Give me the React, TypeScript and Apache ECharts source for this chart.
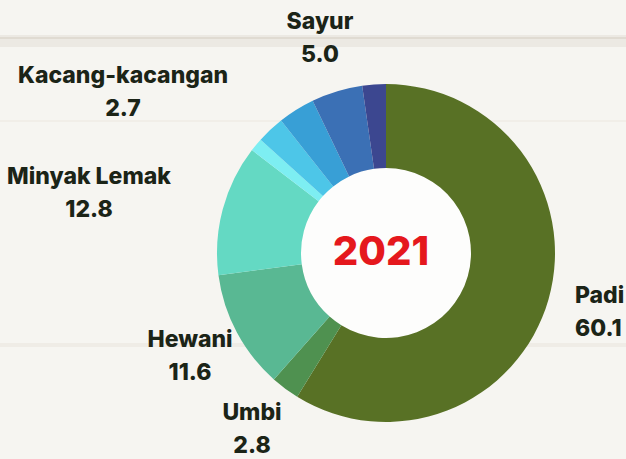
import React, { useEffect, useRef } from "react";
import * as echarts from "echarts";

const categories = ["Padi", "Umbi", "Hewani", "Minyak Lemak", "Buah/Biji Berminyak", "Kacang-kacangan", "Gula", "Sayur", "Lain-lain"];
const values = [60.1, 2.8, 11.6, 12.8, 1.3, 2.7, 3.6, 5.0, 2.3];
const showLabel = [true, true, true, true, false, true, false, true, false];
const sliceColors = ["#587125", "#4f9150", "#59b893", "#64d9c3", "#7deef2", "#4dc6e8", "#389fd6", "#3b70b5", "#3c4790"];
const centerTitle = "2021";

// label anchors (pixel positions of label blocks)
const labelPos: { x: number; y: number; align: string }[] = [
  { x: 575, y: 311, align: "left" },
  { x: 252, y: 428, align: "center" },
  { x: 190, y: 355, align: "center" },
  { x: 89, y: 192, align: "center" },
  { x: 0, y: 0, align: "center" },
  { x: 123, y: 91, align: "center" },
  { x: 0, y: 0, align: "center" },
  { x: 320, y: 37, align: "center" },
  { x: 0, y: 0, align: "center" },
];

const W = 626;
const H = 459;
const CX = 386;
const CY = 253;

export default function App() {
  const ref = useRef<HTMLDivElement>(null);
  useEffect(() => {
    if (!ref.current) return;
    const chart = echarts.init(ref.current, null, { renderer: "svg" });
    const font = "Inter, 'Open Sans', sans-serif";
    chart.setOption({
      animation: false,
      backgroundColor: "#f6f5f1",
      graphic: [
        { type: "rect", z: -10, shape: { x: 0, y: 35, width: W, height: 12 }, style: { fill: "#ece9e3" } },
        { type: "line", z: -10, shape: { x1: 0, y1: 38, x2: W, y2: 38 }, style: { stroke: "#e0dbd2", lineWidth: 2 } },
        { type: "rect", z: -10, shape: { x: 0, y: 343, width: W, height: 4 }, style: { fill: "#efece6" } },
        { type: "rect", z: -10, shape: { x: 0, y: 120, width: W, height: 2 }, style: { fill: "#f1eee8" } },
        {
          type: "text",
          z: 100,
          x: 381,
          y: 250,
          style: {
            text: centerTitle,
            fill: "#e5181d",
            fontFamily: font,
            fontWeight: 800,
            fontSize: 40,
            align: "center",
            verticalAlign: "middle",
          },
        },
      ],
      series: [
        {
          type: "pie",
          silent: true,
          center: [CX, CY],
          radius: [0, 85],
          label: { show: false },
          labelLine: { show: false },
          itemStyle: { color: "#fdfdfc" },
          data: [{ value: 1, name: "" }],
          z: 1,
        },
        {
          type: "pie",
          center: [CX, CY],
          radius: [85, 169],
          startAngle: 90,
          clockwise: true,
          avoidLabelOverlap: false,
          itemStyle: { borderWidth: 0 },
          labelLine: { show: false },
          label: {
            show: true,
            formatter: (p: any) => `{n|${p.name}}\n{n|${Number(p.value).toFixed(1)}}`,
            rich: {
              n: { fontFamily: font, fontWeight: 800, fontSize: 23, color: "#1b2417", lineHeight: 33 },
            },
          },
          labelLayout: (p: any) => {
            const lp = labelPos[p.dataIndex];
            return { x: lp.x, y: lp.y, align: lp.align, verticalAlign: "middle" };
          },
          data: categories.map((c, i) => ({
            name: c,
            value: values[i],
            itemStyle: { color: sliceColors[i] },
            label: { show: showLabel[i], align: labelPos[i].align },
          })),
          z: 2,
        },
      ],
    });
    return () => chart.dispose();
  }, []);
  return <div ref={ref} style={{ position: "fixed", left: 0, top: 0, width: W, height: H }} />;
}
